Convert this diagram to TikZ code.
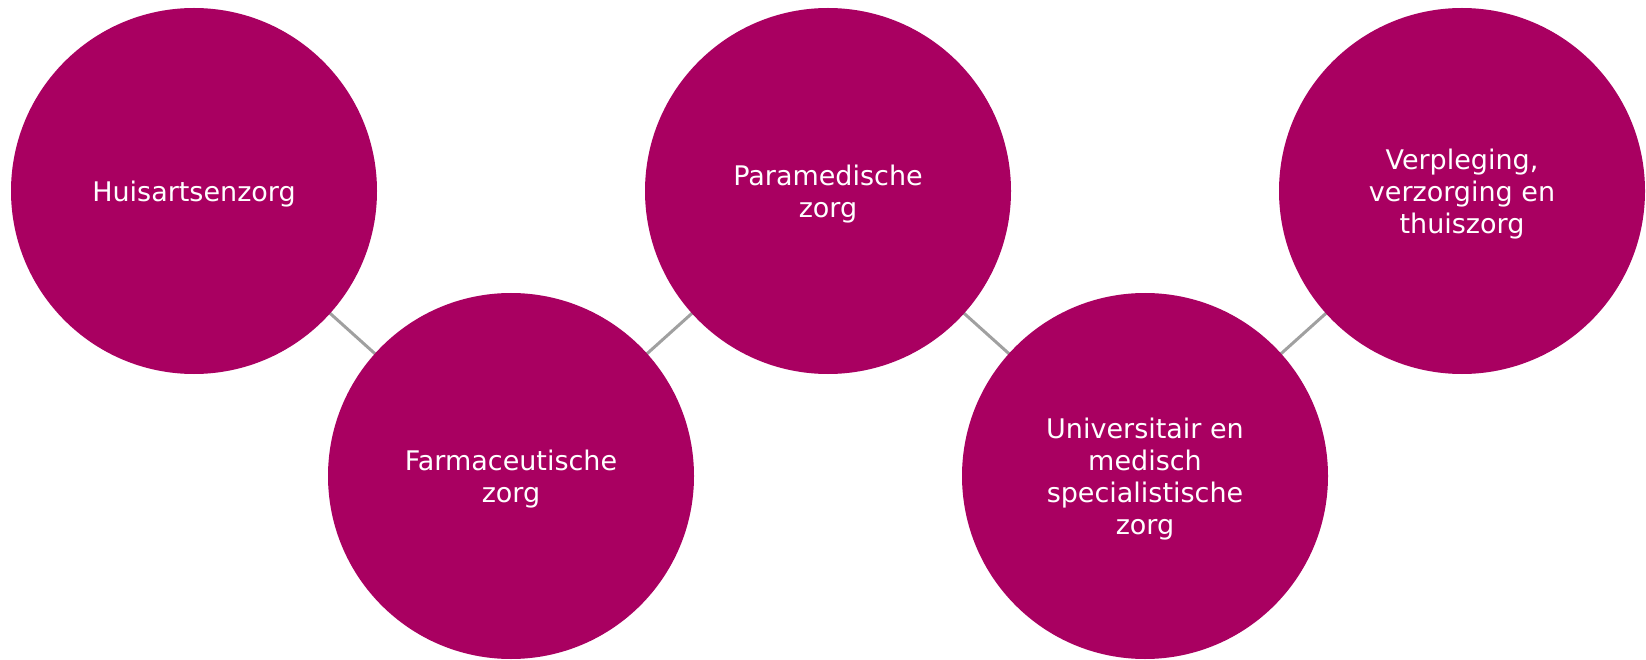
\documentclass[tikz,border=0pt]{standalone}
\usepackage{fontspec}
\setmainfont{DejaVu Sans}
\definecolor{rovviolet}{HTML}{A90061}
\definecolor{linkgray}{HTML}{A0A0A0}
\tikzset{
  zorg/.style={circle, fill=rovviolet, minimum size=366pt, inner sep=0pt},
  zorgtext/.style={text=white, align=center, font=\fontsize{27}{32}\selectfont, yshift=-3pt},
  link/.style={draw=linkgray, line width=3pt}
}
\begin{document}
\begin{tikzpicture}[x=1pt,y=-1pt]
\useasboundingbox (0,0) rectangle (1646,660);
\coordinate (c1) at (194,191);
\coordinate (c2) at (511,476);
\coordinate (c3) at (828,191);
\coordinate (c4) at (1145,476);
\coordinate (c5) at (1462,191);
\draw[link] (c1) -- (c2) -- (c3) -- (c4) -- (c5);
\node[zorg] (n1) at (c1) {};
\node[zorg] (n2) at (c2) {};
\node[zorg] (n3) at (c3) {};
\node[zorg] (n4) at (c4) {};
\node[zorg] (n5) at (c5) {};
\node[zorgtext] (t1) at (n1.center) {Huisartsenzorg};
\node[zorgtext] (t2) at (n2.center) {Farmaceutische\\zorg};
\node[zorgtext] (t3) at (n3.center) {Paramedische\\zorg};
\node[zorgtext] (t4) at (n4.center) {Universitair en\\medisch\\specialistische\\zorg};
\node[zorgtext] (t5) at (n5.center) {Verpleging,\\verzorging en\\thuiszorg};
\end{tikzpicture}
\end{document}
